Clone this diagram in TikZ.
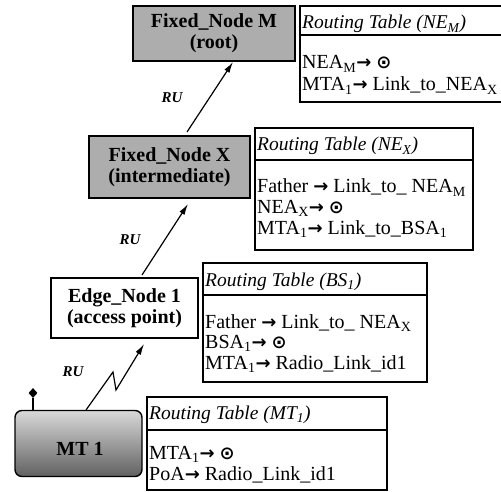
\documentclass[tikz,border=0pt]{standalone}
\usepackage{fontspec}
\setmainfont{Liberation Serif}
\newfontfamily\symf{DejaVu Sans}
\usetikzlibrary{arrows.meta,shapes.geometric}
\newcommand{\rarr}{{\symf\bfseries\fontsize{18}{18}\selectfont →}}
\newcommand{\odotsym}{{\symf\bfseries\fontsize{18}{18}\selectfont ⊙}}
\begin{document}
\begin{tikzpicture}[x=1pt,y=-1pt,
  nodebox/.style={draw=black,line width=1.4pt,minimum width=#1,inner sep=0pt,align=center,
     font=\bfseries\fontsize{20}{21}\selectfont},
  fixedfill/.style={fill=black!32},
  rtbox/.style={draw=black,line width=1.2pt},
  rtline/.style={anchor=base west,inner sep=0pt,text height=13.5pt,text depth=4pt,
     font=\fontsize{20}{20}\selectfont},
  rthead/.style={anchor=base west,inner sep=0pt,font=\itshape\fontsize{19.5}{20}\selectfont},
  rulabel/.style={inner sep=0pt,font=\bfseries\itshape\fontsize{15}{15}\selectfont},
  conn/.style={line width=1.2pt,-{Latex[length=11pt,width=6pt]}}
]
\useasboundingbox (0,0) rectangle (501,492);

% ---------- Fixed Node M ----------
\node[nodebox=162pt,fixedfill,minimum height=55pt] (fnm) at (214,33.5)
  {Fixed\_Node M\\(root)};
\draw[rtbox] (300,6) rectangle (503,102);
\draw[rtbox] (300,35) -- (503,35);
\node[rthead] (hm) at (302,29) {Routing Table (NE\textsubscript{M})};
\node[rtline] (m1) at (302,69) {NEA\textsubscript{M}\rarr\ \odotsym};
\node[rtline] (m2) at (302,91) {MTA\textsubscript{1}\rarr\ Link\_to\_NEA\textsubscript{X}};

% ---------- Fixed Node X ----------
\node[nodebox=161pt,fixedfill,minimum height=62pt] (fnx) at (169.5,167)
  {Fixed\_Node X\\(intermediate)};
\draw[rtbox] (255,128) rectangle (473,250);
\draw[rtbox] (255,160) -- (473,160);
\node[rthead] (hx) at (257,151) {Routing Table (NE\textsubscript{X})};
\node[rtline] (x1) at (257,193) {Father \rarr\ Link\_to\_ NEA\textsubscript{M}};
\node[rtline] (x2) at (257,213) {NEA\textsubscript{X}\rarr\ \odotsym};
\node[rtline] (x3) at (257,234) {MTA\textsubscript{1}\rarr\ Link\_to\_BSA\textsubscript{1}};

% ---------- Edge Node 1 ----------
\node[nodebox=147pt,fill=white,minimum height=60pt] (en1) at (124.5,308)
  {Edge\_Node 1\\(access point)};
\draw[rtbox] (203,263) rectangle (427,382);
\draw[rtbox] (203,295) -- (427,295);
\node[rthead] (hb) at (205,286) {Routing Table (BS\textsubscript{1})};
\node[rtline] (b1) at (205,328) {Father \rarr\ Link\_to\_ NEA\textsubscript{X}};
\node[rtline] (b2) at (205,348) {BSA\textsubscript{1}\rarr\ \odotsym};
\node[rtline] (b3) at (205,369) {MTA\textsubscript{1}\rarr\ Radio\_Link\_id1};

% ---------- MT 1 ----------
\node[draw=black,line width=1.4pt,rounded corners=7pt,minimum width=127pt,minimum height=66pt,
  top color=black!15,bottom color=black!62,inner sep=0pt] (mt1) at (78.5,443.5) {};
\node[inner sep=0pt,font=\bfseries\fontsize{20}{21}\selectfont] (mtl) at (80,449) {MT 1};
\coordinate (ant) at (33,410);
\node[diamond,fill=black,inner sep=0pt,minimum width=9pt,minimum height=10pt] (dia) at (33,393) {};
\draw[line width=1.3pt] (ant) -- (dia.south);
\draw[rtbox] (147,397) rectangle (387,490);
\draw[rtbox] (147,430) -- (387,430);
\node[rthead] (ht) at (149,419) {Routing Table (MT\textsubscript{1})};
\node[rtline] (t1) at (149,459) {MTA\textsubscript{1}\rarr\ \odotsym};
\node[rtline] (t2) at (149,480.5) {PoA\rarr\ Radio\_Link\_id1};

% ---------- connectors ----------
\coordinate (s1) at (187,132);
\coordinate (e1) at (233,62);
\draw[conn] (s1) -- (e1);
\coordinate (s2) at (142,275);
\coordinate (e2) at (188,204);
\draw[conn] (s2) -- (e2);
\coordinate (s3) at (86,410);
\coordinate (z1) at (113,372);
\coordinate (z2) at (116,390);
\coordinate (e3) at (144,344);
\draw[conn] (s3) -- (z1) -- (z2) -- (e3);

\node[rulabel] (ru1) at (172,98) {RU};
\node[rulabel] (ru2) at (130,240) {RU};
\node[rulabel] (ru3) at (73,372) {RU};
\end{tikzpicture}
\end{document}
